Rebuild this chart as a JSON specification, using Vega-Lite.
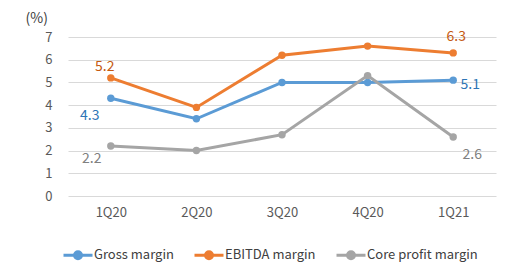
{
  "$schema": "https://vega.github.io/schema/vega-lite/v6.json",
  "width": 428,
  "height": 159,
  "autosize": {"type": "none"},
  "padding": {"left": 68, "top": 37, "right": 26, "bottom": 73},
  "background": "white",
  "config": {"font": "Noto Sans CJK KR", "view": {"stroke": null}},
  "data": {"values": [
    {"quarter": "1Q20", "series": "Gross margin", "value": 4.3},
    {"quarter": "2Q20", "series": "Gross margin", "value": 3.4},
    {"quarter": "3Q20", "series": "Gross margin", "value": 5.0},
    {"quarter": "4Q20", "series": "Gross margin", "value": 5.0},
    {"quarter": "1Q21", "series": "Gross margin", "value": 5.1},
    {"quarter": "1Q20", "series": "EBITDA margin", "value": 5.2},
    {"quarter": "2Q20", "series": "EBITDA margin", "value": 3.9},
    {"quarter": "3Q20", "series": "EBITDA margin", "value": 6.2},
    {"quarter": "4Q20", "series": "EBITDA margin", "value": 6.6},
    {"quarter": "1Q21", "series": "EBITDA margin", "value": 6.3},
    {"quarter": "1Q20", "series": "Core profit margin", "value": 2.2},
    {"quarter": "2Q20", "series": "Core profit margin", "value": 2.0},
    {"quarter": "3Q20", "series": "Core profit margin", "value": 2.7},
    {"quarter": "4Q20", "series": "Core profit margin", "value": 5.3},
    {"quarter": "1Q21", "series": "Core profit margin", "value": 2.6}
  ]},
  "encoding": {
    "x": {
      "field": "quarter", "type": "ordinal",
      "sort": ["1Q20", "2Q20", "3Q20", "4Q20", "1Q21"],
      "scale": {"type": "point", "padding": 0.5},
      "axis": {"title": null, "labelAngle": 0, "domain": false, "ticks": false, "labelPadding": 10, "labelFontSize": 13, "labelColor": "#595959", "grid": false}
    },
    "y": {
      "field": "value", "type": "quantitative",
      "scale": {"domain": [0, 7], "nice": false},
      "axis": {
        "values": [0, 1, 2, 3, 4, 5, 6, 7],
        "domain": false, "ticks": false, "grid": true, "gridColor": "#D9D9D9", "gridWidth": 1,
        "labelPadding": 16, "labelFontSize": 13, "labelColor": "#595959",
        "title": "(%)", "titleAngle": 0, "titleX": -43, "titleY": -19, "titleAlign": "left", "titleBaseline": "middle",
        "titleFontWeight": "normal", "titleFontSize": 14, "titleColor": "#404040"
      }
    }
  },
  "layer": [
    {
      "mark": {"type": "line", "strokeWidth": 3},
      "encoding": {
        "color": {
          "field": "series", "type": "nominal",
          "sort": ["Gross margin", "EBITDA margin", "Core profit margin"],
          "scale": {"domain": ["Gross margin", "EBITDA margin", "Core profit margin"], "range": ["#5B9BD5", "#ED7D31", "#A5A5A5"]},
          "legend": {
            "title": null, "orient": "none", "direction": "horizontal", "legendX": -6, "legendY": 202, "padding": 0,
            "symbolType": "M-1,0L1,0M0.24,0A0.24,0.24,0,1,1,-0.24,0A0.24,0.24,0,1,1,0.24,0",
            "symbolSize": 841, "symbolStrokeWidth": 3,
            "labelFontSize": 13, "labelColor": "#404040", "labelOffset": 0, "columnPadding": 14
          }
        }
      }
    },
    {
      "mark": {"type": "point", "filled": true, "size": 55, "opacity": 1},
      "encoding": {
        "color": {"field": "series", "type": "nominal", "sort": ["Gross margin", "EBITDA margin", "Core profit margin"]}
      }
    },
    {
      "transform": [{"filter": "datum.series == 'EBITDA margin' && datum.quarter == '1Q20'"}],
      "mark": {"type": "text", "dx": -6, "dy": -11, "color": "#C55A11", "fontSize": 14},
      "encoding": {"text": {"field": "value", "type": "quantitative", "format": ".1f"}}
    },
    {
      "transform": [{"filter": "datum.series == 'EBITDA margin' && datum.quarter == '1Q21'"}],
      "mark": {"type": "text", "dx": 3, "dy": -16, "color": "#C55A11", "fontSize": 14},
      "encoding": {"text": {"field": "value", "type": "quantitative", "format": ".1f"}}
    },
    {
      "transform": [{"filter": "datum.series == 'Gross margin' && datum.quarter == '1Q20'"}],
      "mark": {"type": "text", "dx": -21, "dy": 18, "color": "#2E75B6", "fontSize": 14},
      "encoding": {"text": {"field": "value", "type": "quantitative", "format": ".1f"}}
    },
    {
      "transform": [{"filter": "datum.series == 'Gross margin' && datum.quarter == '1Q21'"}],
      "mark": {"type": "text", "dx": 17, "dy": 5, "color": "#2E75B6", "fontSize": 14},
      "encoding": {"text": {"field": "value", "type": "quantitative", "format": ".1f"}}
    },
    {
      "transform": [{"filter": "datum.series == 'Core profit margin' && datum.quarter == '1Q20'"}],
      "mark": {"type": "text", "dx": -19, "dy": 13, "color": "#808080", "fontSize": 14},
      "encoding": {"text": {"field": "value", "type": "quantitative", "format": ".1f"}}
    },
    {
      "transform": [{"filter": "datum.series == 'Core profit margin' && datum.quarter == '1Q21'"}],
      "mark": {"type": "text", "dx": 19, "dy": 18, "color": "#808080", "fontSize": 14},
      "encoding": {"text": {"field": "value", "type": "quantitative", "format": ".1f"}}
    }
  ]
}
